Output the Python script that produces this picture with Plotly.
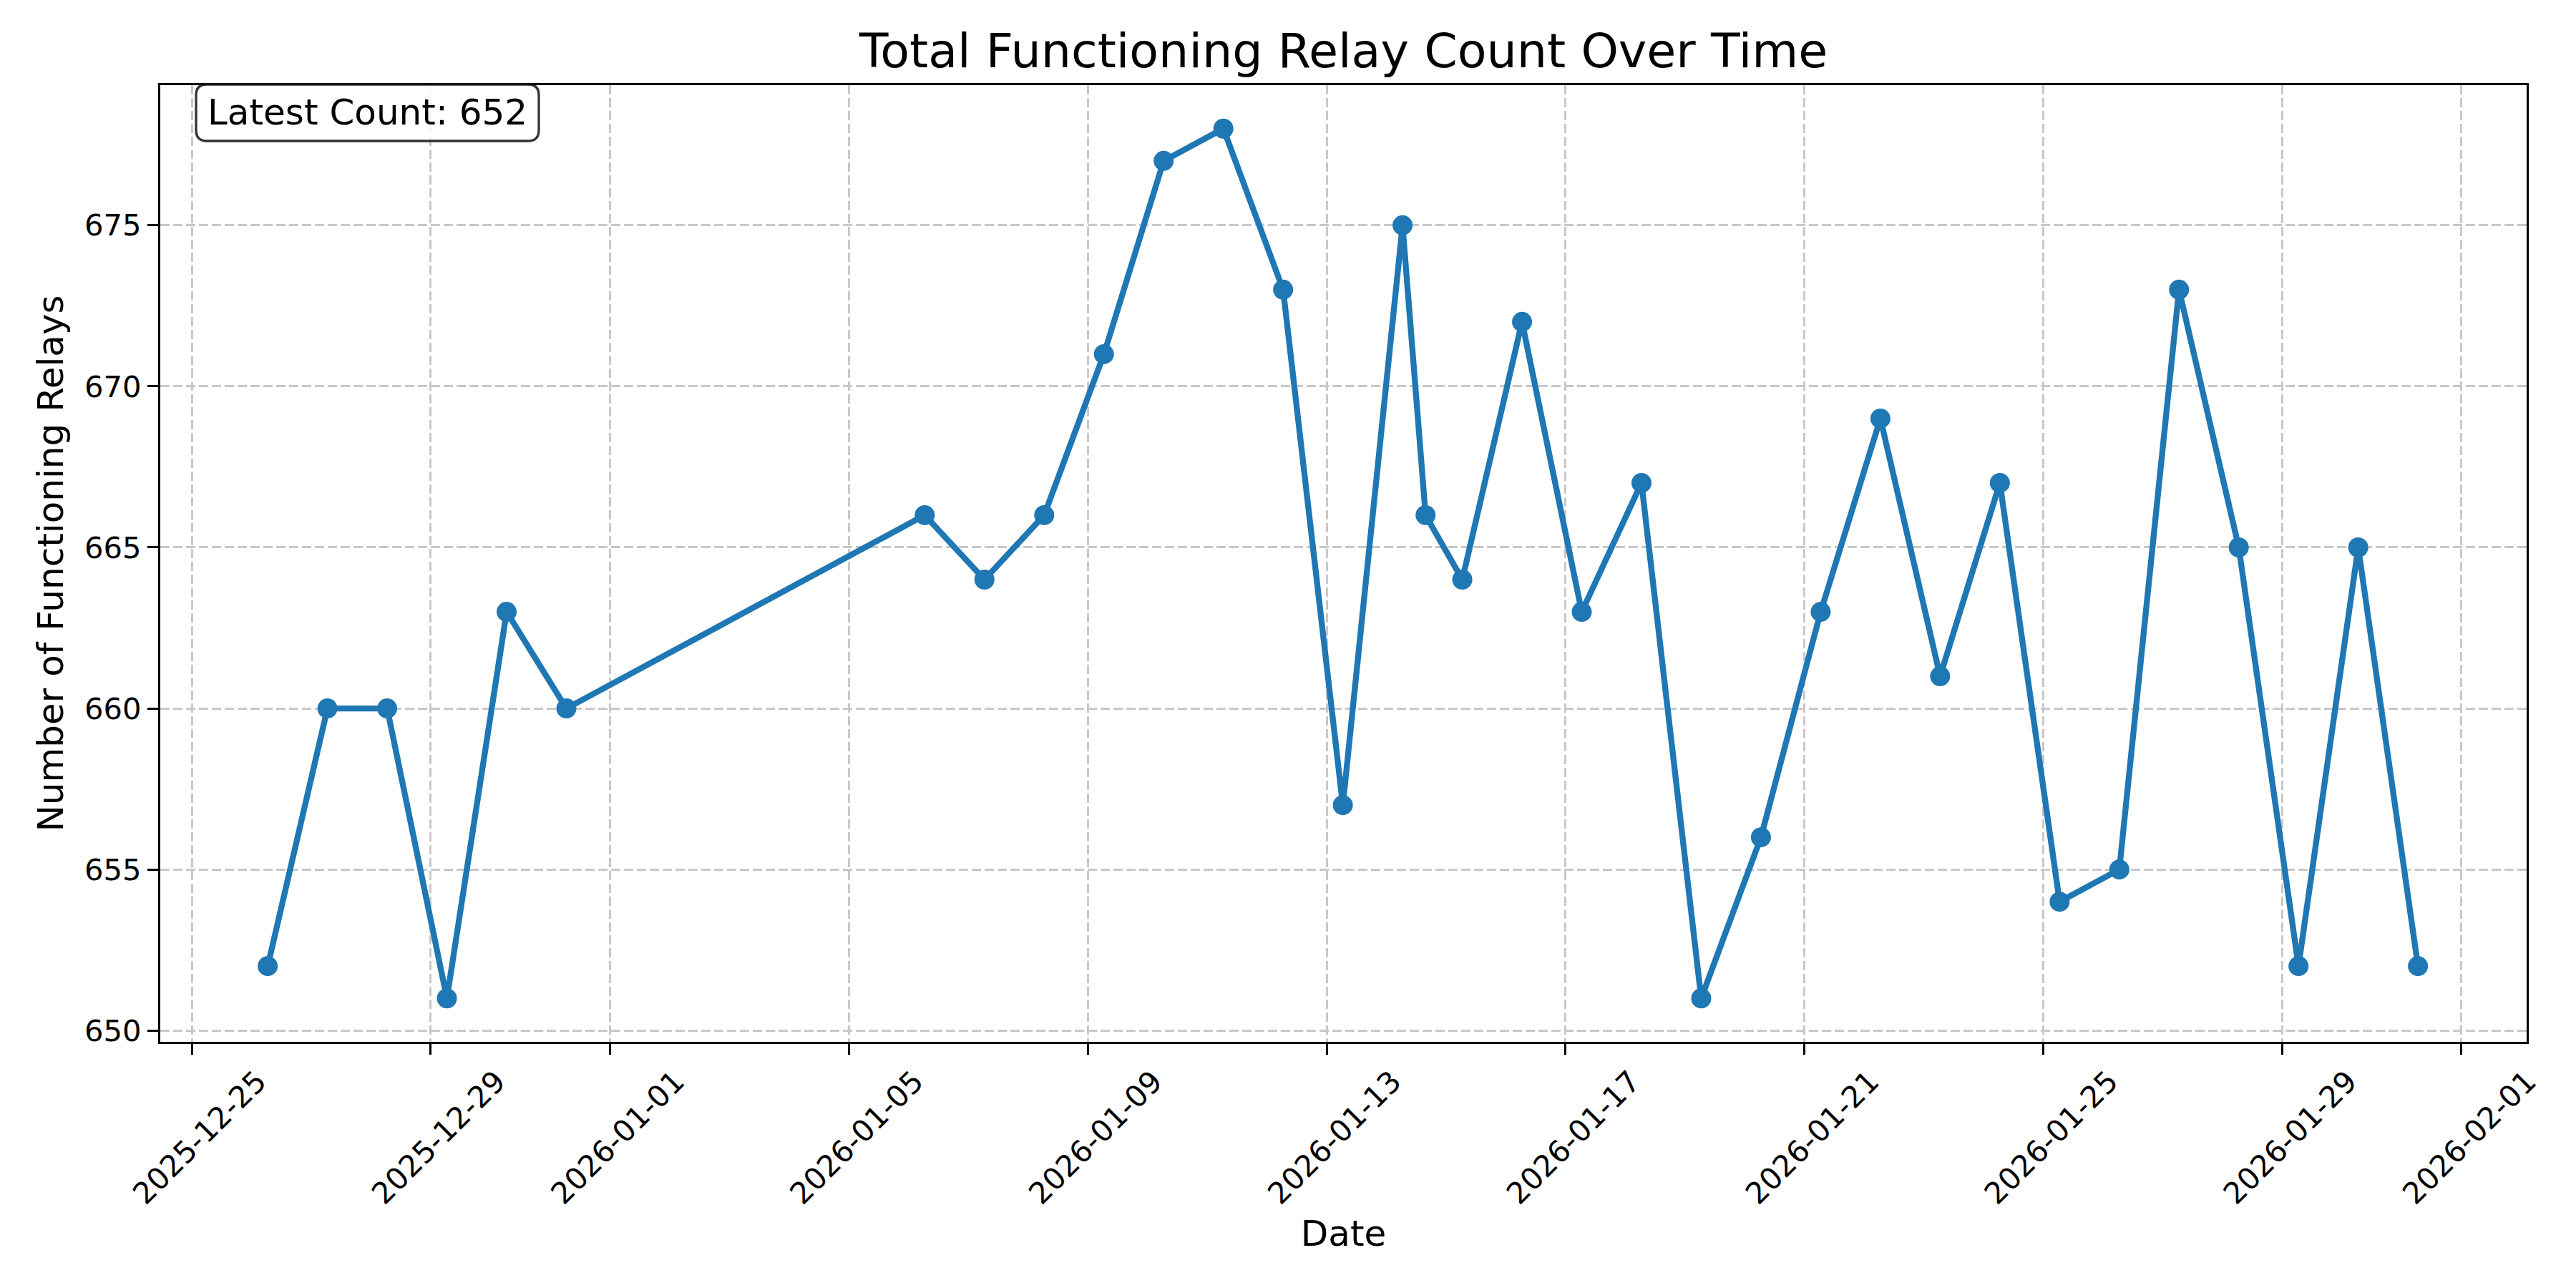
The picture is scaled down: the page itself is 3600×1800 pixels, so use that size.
import plotly.graph_objects as go

# ---- data ----
timestamps = [
    "2025-12-26 06:30", "2025-12-27 06:30", "2025-12-28 06:30", "2025-12-29 06:30",
    "2025-12-30 06:30", "2025-12-31 06:30", "2026-01-06 06:30", "2026-01-07 06:30",
    "2026-01-08 06:30", "2026-01-09 06:30", "2026-01-10 06:30", "2026-01-11 06:30",
    "2026-01-12 06:30", "2026-01-13 06:30", "2026-01-14 06:30", "2026-01-14 15:45",
    "2026-01-15 06:30", "2026-01-16 06:30", "2026-01-17 06:30", "2026-01-18 06:30",
    "2026-01-19 06:30", "2026-01-20 06:30", "2026-01-21 06:30", "2026-01-22 06:30",
    "2026-01-23 06:30", "2026-01-24 06:30", "2026-01-25 06:30", "2026-01-26 06:30",
    "2026-01-27 06:30", "2026-01-28 06:30", "2026-01-29 06:30", "2026-01-30 06:30",
    "2026-01-31 06:30",
]
relay_counts = [
    652, 660, 660, 651, 663, 660, 666, 664, 666, 671, 677, 678, 673, 657, 675, 666,
    664, 672, 663, 667, 651, 656, 663, 669, 661, 667, 654, 655, 673, 665, 652, 665, 652,
]
x_tick_vals = [
    "2025-12-25", "2025-12-29", "2026-01-01", "2026-01-05", "2026-01-09", "2026-01-13",
    "2026-01-17", "2026-01-21", "2026-01-25", "2026-01-29", "2026-02-01",
]
y_tick_vals = [650, 655, 660, 665, 670, 675]
x_range = ["2025-12-24 11:20", "2026-02-02 02:10"]
y_range = [649.65, 679.35]

FONT = "DejaVu Sans"
W, H = 3600, 1800
ML, MR, MT, MB = 224, 69, 119, 344
PW, PH = W - ML - MR, H - MT - MB

fig = go.Figure()
fig.add_trace(go.Scatter(
    x=timestamps, y=relay_counts, mode="lines+markers",
    line=dict(color="#1f77b4", width=8.3),
    marker=dict(color="#1f77b4", size=28),
    showlegend=False,
))

grid = dict(showgrid=True, gridcolor="#c8c8c8", gridwidth=3.3, griddash="13px,5px")
fig.update_xaxes(
    type="date", range=x_range, tickvals=x_tick_vals, tickformat="%Y-%m-%d",
    tickangle=-45, ticklabelshift=92, ticklabelstandoff=-4, ticks="outside", ticklen=15,
    tickwidth=3.3, tickcolor="black", showline=True, linecolor="black", linewidth=3.3,
    mirror=True, tickfont=dict(family=FONT, size=41.7, color="black"), zeroline=False,
    title=dict(text="Date", font=dict(family=FONT, size=50, color="black"), standoff=15),
    automargin=False, **grid,
)
fig.update_yaxes(
    range=y_range, tickvals=y_tick_vals, ticks="outside", ticklen=15, tickwidth=3.3,
    tickcolor="black", showline=True, linecolor="black", linewidth=3.3, mirror=True,
    tickfont=dict(family=FONT, size=41.7, color="black"), zeroline=False,
    title=dict(text="Number of Functioning Relays", font=dict(family=FONT, size=50, color="black"), standoff=14),
    automargin=False, **grid,
)

# rounded annotation box (paper coordinates)
bx0, bx1 = (274 - ML) / PW, (753 - ML) / PW
by1, by0 = 1 - (118 - MT) / PH, 1 - (197 - MT) / PH
rx, ry = 15 / PW, 15 / PH
path = (f"M {bx0+rx},{by1} L {bx1-rx},{by1} Q {bx1},{by1} {bx1},{by1-ry} "
        f"L {bx1},{by0+ry} Q {bx1},{by0} {bx1-rx},{by0} L {bx0+rx},{by0} "
        f"Q {bx0},{by0} {bx0},{by0+ry} L {bx0},{by1-ry} Q {bx0},{by1} {bx0+rx},{by1} Z")
fig.add_shape(type="path", path=path, xref="paper", yref="paper",
              fillcolor="rgba(255,255,255,0.8)", line=dict(color="rgba(0,0,0,0.8)", width=3.3),
              layer="above")
fig.add_annotation(
    text=f"Latest Count: {relay_counts[-1]}", xref="paper", yref="paper",
    x=(bx0 + bx1) / 2, y=(by0 + by1) / 2, xanchor="center", yanchor="middle",
    showarrow=False, font=dict(family=FONT, size=50, color="black"),
)

fig.update_layout(
    width=W, height=H, margin=dict(l=ML, r=MR, t=MT, b=MB),
    paper_bgcolor="white", plot_bgcolor="white",
    title=dict(text="Total Functioning Relay Count Over Time", x=0.5, xref="paper",
               y=1 - 71 / H, yref="container", xanchor="center", yanchor="middle",
               font=dict(family=FONT, size=66.7, color="black")),
)

fig.write_html("out.html")
